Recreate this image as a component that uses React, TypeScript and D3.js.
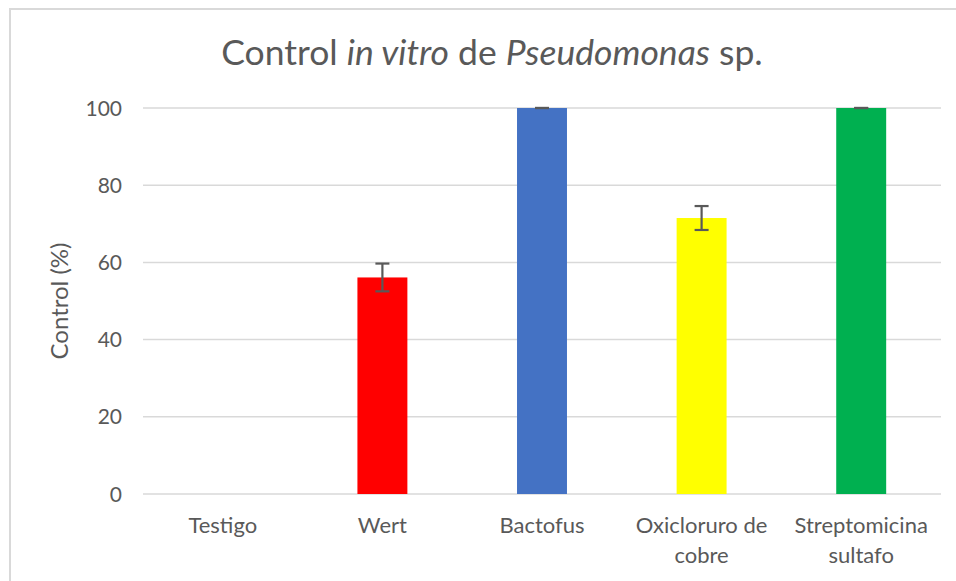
import * as d3 from "d3";
import { useEffect, useRef } from "react";

// data
const categories = ["Testigo", "Wert", "Bactofus", "Oxicloruro de cobre", "Streptomicina sultafo"];
const values = [0, 56.1, 100, 71.5, 100];
const errors = [0, 3.6, 0, 3.1, 0];
const colors = ["#FF0000", "#FF0000", "#4472C4", "#FFFF00", "#00B050"];
const yTicks = [0, 20, 40, 60, 80, 100];

const W = 956, H = 581;
const FONT = "Lato, 'Open Sans', sans-serif";
const TEXT = "#595959";

// greedy line wrap on character count, like the category labels in the picture
function wrap(label: string, max = 13) {
  const words = label.split(" ");
  const lines: string[] = [];
  let cur = "";
  words.forEach(w => {
    const next = cur ? cur + " " + w : w;
    if (next.length > max && cur) { lines.push(cur); cur = w; } else cur = next;
  });
  if (cur) lines.push(cur);
  return lines;
}

export default function App() {
  const ref = useRef<SVGSVGElement>(null);

  useEffect(() => {
    const svg = d3.select(ref.current);
    svg.selectAll("*").remove();

    const margin = { top: 108, right: 15, bottom: 87, left: 143 };
    const width = W - margin.left - margin.right;
    const height = H - margin.top - margin.bottom;

    // chart frame
    svg.append("rect")
      .attr("x", 10).attr("y", 9)
      .attr("width", 1000).attr("height", 700)
      .attr("fill", "#fff")
      .attr("stroke", "#d9d9d9")
      .attr("stroke-width", 2);

    // title
    const title = svg.append("text")
      .attr("x", 492).attr("y", 65)
      .attr("text-anchor", "middle")
      .attr("font-family", FONT)
      .attr("font-size", 35.5)
      .attr("fill", TEXT);
    title.append("tspan").text("Control ");
    title.append("tspan").attr("font-style", "italic").text("in vitro");
    title.append("tspan").text(" de ");
    title.append("tspan").attr("font-style", "italic").text("Pseudomonas");
    title.append("tspan").text(" sp.");

    const g = svg.append("g")
      .attr("transform", `translate(${margin.left}, ${margin.top})`);

    const x = d3.scaleBand()
      .domain(categories)
      .range([0, width])
      .paddingInner(0.687)
      .paddingOuter(0.3435);

    const y = d3.scaleLinear()
      .domain([0, 100])
      .range([height, 0]);

    // gridlines
    g.append("g")
      .selectAll("line")
      .data(yTicks)
      .join("line")
      .attr("x1", 0).attr("x2", width)
      .attr("y1", d => y(d)).attr("y2", d => y(d))
      .attr("stroke", "#d9d9d9")
      .attr("stroke-width", 1.5);

    // y tick labels
    g.append("g")
      .selectAll("text")
      .data(yTicks)
      .join("text")
      .attr("x", -21)
      .attr("y", d => y(d))
      .attr("dy", "0.36em")
      .attr("text-anchor", "end")
      .attr("font-family", FONT)
      .attr("font-size", 21)
      .attr("fill", TEXT)
      .text(d => d);

    // y axis title
    g.append("text")
      .attr("transform", `translate(${-75}, ${height / 2}) rotate(-90)`)
      .attr("text-anchor", "middle")
      .attr("font-family", FONT)
      .attr("font-size", 24)
      .attr("fill", TEXT)
      .text("Control (%)");

    // bars
    g.selectAll("rect.bar")
      .data(values)
      .join("rect")
      .attr("class", "bar")
      .attr("x", (d, i) => x(categories[i])!)
      .attr("y", d => y(d))
      .attr("width", x.bandwidth())
      .attr("height", d => height - y(d))
      .attr("fill", (d, i) => colors[i]);

    // error bars
    const cap = 7;
    const eb = g.append("g")
      .attr("stroke", "#595959")
      .attr("stroke-width", 2.2);
    values.forEach((v, i) => {
      if (i === 0) return;
      const cx = x(categories[i])! + x.bandwidth() / 2;
      const hi = y(v + errors[i]), lo = y(v - errors[i]);
      eb.append("line").attr("x1", cx).attr("x2", cx).attr("y1", hi).attr("y2", lo);
      eb.append("line").attr("x1", cx - cap).attr("x2", cx + cap).attr("y1", hi).attr("y2", hi);
      eb.append("line").attr("x1", cx - cap).attr("x2", cx + cap).attr("y1", lo).attr("y2", lo);
    });

    // category labels
    const labels = g.append("g")
      .selectAll("text")
      .data(categories)
      .join("text")
      .attr("x", d => x(d)! + x.bandwidth() / 2)
      .attr("y", height + 39)
      .attr("text-anchor", "middle")
      .attr("font-family", FONT)
      .attr("font-size", 22)
      .attr("fill", TEXT);
    labels.each(function (d) {
      const t = d3.select(this);
      wrap(d).forEach((line, k) => {
        t.append("tspan")
          .attr("x", t.attr("x"))
          .attr("dy", k === 0 ? 0 : 30)
          .text(line);
      });
    });
  }, []);

  return (
    <svg
      ref={ref}
      width={W}
      height={H}
      style={{ position: "absolute", left: 0, top: 0, background: "#fff" }}
    />
  );
}
